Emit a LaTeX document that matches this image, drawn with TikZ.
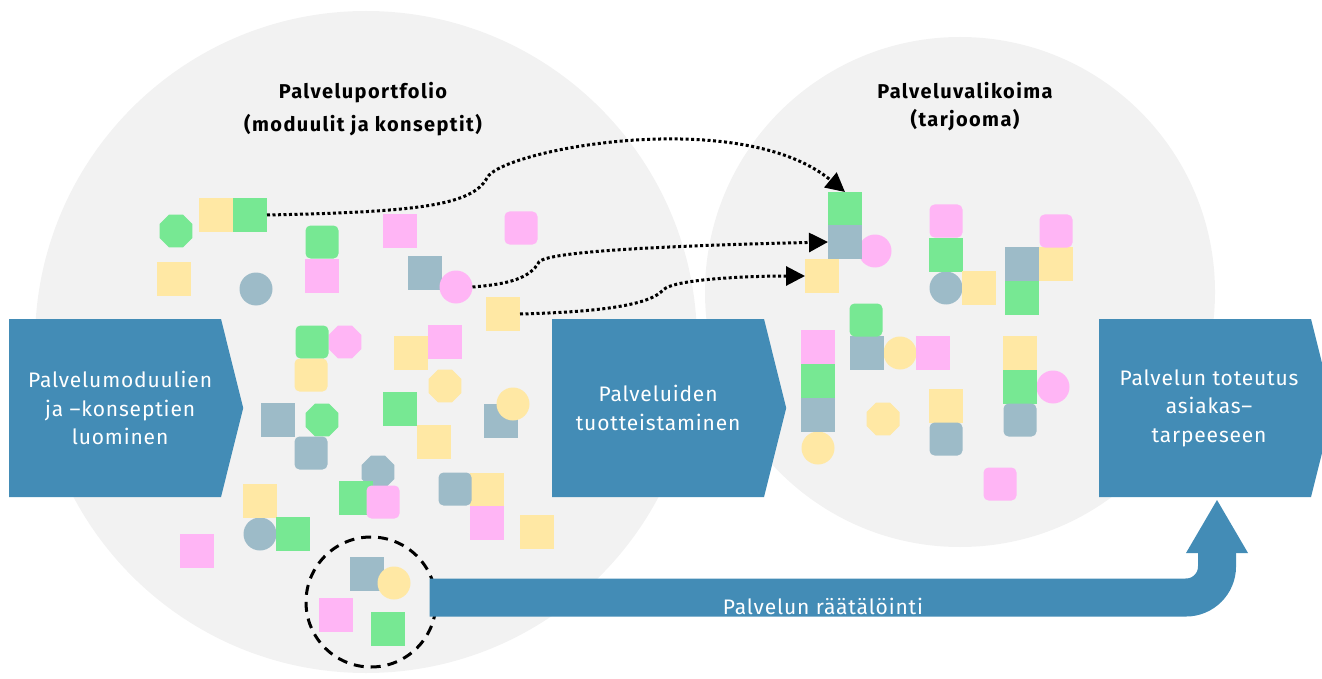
\documentclass[tikz,border=0pt]{standalone}
\usepackage{fontspec}
\setmainfont{Fira Sans}
\newfontfamily\stagefont[LetterSpace=4]{Fira Sans}
\newfontfamily\titlefont[LetterSpace=7]{Fira Sans}
\usetikzlibrary{shapes.geometric,shapes.symbols,arrows.meta}

\definecolor{portgray}{HTML}{F2F2F2}
\definecolor{stageblue}{HTML}{438CB6}
\definecolor{modyel}{HTML}{FFE8A4}
\definecolor{modgrn}{HTML}{77E893}
\definecolor{modpnk}{HTML}{FFB5F5}
\definecolor{modgry}{HTML}{9DBBC8}

\begin{document}
\begin{tikzpicture}[
  x=1pt,
  y=-1pt,
  module/.style={
    inner sep=0pt,
    outer sep=0pt,
    minimum size=34pt
  },
  sq/.style={
    module,
    rectangle
  },
  rsq/.style={
    module,
    rectangle,
    rounded corners=5pt,
    minimum size=33pt
  },
  dot/.style={
    module,
    circle,
    minimum size=33pt
  },
  oct/.style={
    module,
    regular polygon,
    regular polygon sides=8,
    minimum size=35.7pt
  },
  stage/.style={
    signal,
    signal to=east,
    signal pointer angle=152,
    fill=stageblue,
    text=white,
    anchor=west,
    minimum width=234pt,
    minimum height=178pt,
    inner sep=0pt,
    align=center,
    font=\stagefont\fontsize{21}{28.5}\selectfont
  },
  title/.style={
    align=center,
    font=\titlefont\bfseries\fontsize{20}{33}\selectfont
  },
  flow/.style={
    line width=3pt,
    dash pattern=on 3pt off 2.5pt,
    -{Triangle[length=19pt,width=19pt]}
  },
  tailor/.style={
    stageblue,
    line width=38pt,
    rounded corners=31pt,
    -{Triangle[length=53pt,width=62pt,line width=0pt]}
  },
]
\useasboundingbox (0,0) rectangle (1322,679);

% the two pools
\node[circle, fill=portgray, minimum size=662pt] (portfolio) at (366,342) {};
\node[circle, fill=portgray, minimum size=510pt] (range) at (960,292) {};

\node[title] (portlbl) at (363,109) {Palveluportfolio\\(moduulit ja konseptit)};
\node[title, font=\titlefont\bfseries\fontsize{20}{28}\selectfont] (rangelbl) at (965,107) {Palveluvalikoima\\(tarjooma)};

% modules
\foreach \x/\y/\c [count=\i] in {176/231/modgrn, 322/420/modgrn, 345/342/modpnk, 445/386/modyel,
    378/472/modgry, 883/419/modyel}
  \node[oct, fill=\c] (oct\i) at (\x,\y) {};
\foreach \x/\y/\c [count=\i] in {256/289/modgry, 260/534/modgry, 875/251/modpnk, 1053/387/modpnk,
    946/288/modgry, 900/353/modyel, 818/448/modyel}
  \node[dot, fill=\c] (dot\i) at (\x,\y) {};
\foreach \x/\y/\c [count=\i] in {216/215/modyel, 174/279/modyel, 411/353/modyel, 434/442/modyel,
    487/490/modyel, 537/532/modyel, 260/501/modyel, 400/409/modgrn, 356/498/modgrn, 293/534/modgrn,
    322/276/modpnk, 400/231/modpnk, 445/342/modpnk, 487/523/modpnk, 197/551/modpnk,
    425/273/modgry, 278/420/modgry, 501/421/modgry,
    946/255/modgrn, 1022/298/modgrn, 818/381/modgrn, 1020/387/modgrn,
    1022/264/modgry, 867/353/modgry, 818/415/modgry,
    979/288/modyel, 1056/264/modyel, 946/406/modyel, 1020/353/modyel,
    933/353/modpnk, 818/347/modpnk,
    367/574/modgry, 336/615/modpnk, 388/629/modgrn}
  \node[sq, fill=\c] (sq\i) at (\x,\y) {};
\foreach \x/\y/\c [count=\i] in {322/242/modgrn, 312/342/modgrn, 311/375/modyel, 521/228/modpnk,
    383/502/modpnk, 311/453/modgry, 455/489/modgry,
    946/221/modpnk, 1056/231/modpnk, 1000/484/modpnk, 866/320/modgrn, 946/439/modgry, 1020/420/modgry}
  \node[rsq, fill=\c] (rsq\i) at (\x,\y) {};
\foreach \x/\y/\c [count=\i] in {513/404/modyel, 394/583/modyel}
  \node[dot, fill=\c] (top\i) at (\x,\y) {};

% moved modules
\node[sq, fill=modgrn] (modA) at (250,215) {};
\node[dot, fill=modpnk] (modB) at (456,287) {};
\node[sq, fill=modyel] (modC) at (503,314) {};
\node[sq, fill=modgrn] (offA) at (845,209) {};
\node[sq, fill=modgry] (offB) at (845,242) {};
\node[sq, fill=modyel] (offC) at (822,276) {};

\draw[flow] (modA.east) .. controls (420,212) and (472,205) .. (487,178)
  .. controls (500,150) and (740,105) .. (offA.north);
\draw[flow] (modB.east) .. controls (510,284) and (530,278) .. (539,262)
  .. controls (548,250) and (700,245) .. (offB.west);
\draw[flow] (modC.east) .. controls (600,312) and (650,305) .. (663,290)
  .. controls (675,278) and (760,276) .. (offC.west);

% stages
\node[stage] (create) at (9,408) {\hspace*{10pt}Palvelumoduulien\\\hspace*{10pt}ja –konseptien\\\hspace*{10pt}luominen};
\node[stage] (productize) at (552,408) {Palveluiden\\tuotteistaminen};
\node[stage] (deliver) at (1099,408) {\hspace*{8pt}Palvelun toteutus\\\hspace*{8pt}asiakas–\\\hspace*{8pt}tarpeeseen};

% customised bundle
\node[circle, draw, line width=3pt, dash pattern=on 10pt off 7pt, minimum size=130pt] (bundle) at (371,602) {};
\coordinate (tailorin) at (1217,500);
\draw[tailor] ([xshift=-8pt,yshift=4.5pt]bundle.east) -| (tailorin);
\node[text=white, font=\stagefont\fontsize{21}{24}\selectfont] (tailorlbl) at (823,606) {Palvelun räätälöinti};
\end{tikzpicture}
\end{document}
